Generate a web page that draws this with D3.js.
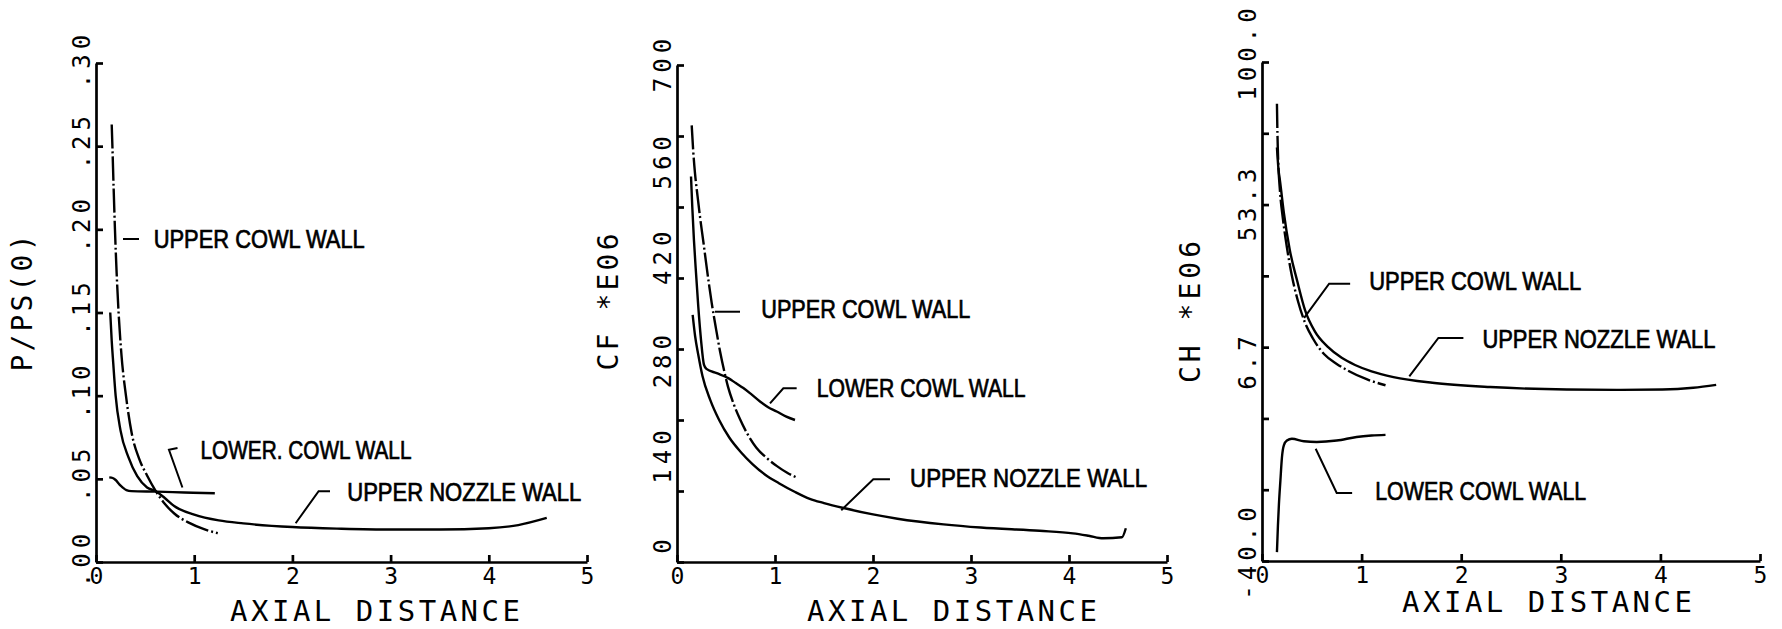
<!DOCTYPE html>
<html>
<head>
<meta charset="utf-8">
<script src="https://cdn.jsdelivr.net/npm/d3@7"></script>
<style>
  body { margin: 0; background: #fff; }
  svg { display: block; background: #fff; }
  .mono { font-family: "DejaVu Sans Mono", monospace; fill: #000; }
  .note { font-family: "Liberation Sans", Arial, sans-serif; fill: #000; }
</style>
</head>
<body>
<svg id="chart" width="1782" height="629"></svg>
<script>
const xTicks = [0, 1, 2, 3, 4, 5];

// P/PS(0)
const ppsTicks = [0, 0.05, 0.10, 0.15, 0.20, 0.25, 0.30];
const ppsLabels = [".00", ".05", ".10", ".15", ".20", ".25", ".30"];
const ppsUpperCowl = [[0.16,0.263],[0.167,0.25],[0.18,0.224],[0.193,0.20],[0.21,0.174],[0.23,0.15],[0.26,0.124],[0.305,0.10],[0.365,0.077],[0.44,0.062],[0.52,0.052],[0.61,0.0425],[0.70,0.035],[0.80,0.029],[0.95,0.0235],[1.10,0.0197],[1.24,0.0173]];
const ppsLowerCowl = [[0.135,0.0509],[0.17,0.0505],[0.2,0.0493],[0.24,0.0465],[0.27,0.0449],[0.31,0.0432],[0.36,0.0426],[0.62,0.0423],[0.9,0.0418],[1.21,0.0413]];
const ppsUpperNozzle = [[0.145,0.150],[0.16,0.133],[0.175,0.12],[0.2,0.10],[0.25,0.079],[0.33,0.063],[0.42,0.0516],[0.52,0.0448],[0.61,0.0425],[0.70,0.0385],[0.80,0.0335],[1.0,0.0285],[1.25,0.0250],[1.5,0.0232],[2.0,0.0210],[2.5,0.0200],[3.0,0.0195],[3.5,0.0195],[4.0,0.0203],[4.3,0.0222],[4.59,0.0265]];

// CF *E06
const cfTicks = [0, 100, 200, 300, 400, 500, 600, 700];
const cfLabelValues = [0, 140, 280, 420, 560, 700];
const cfLabels = ["0", "140", "280", "420", "560", "700"];
const cfUpperCowl = [[0.15,615],[0.165,580],[0.184,547],[0.21,515],[0.235,486],[0.27,450],[0.30,418],[0.354,365],[0.40,327],[0.44,296],[0.49,264],[0.52,247],[0.58,222],[0.64,202],[0.72,180],[0.81,161],[0.92,146],[1.02,135],[1.12,126],[1.22,119]];
const cfLowerCowl = [[0.143,543],[0.156,500],[0.173,453],[0.194,407],[0.217,360],[0.245,313],[0.275,278],[0.30,272],[0.405,266],[0.523,259],[0.60,252],[0.677,245],[0.76,236],[0.847,226],[0.93,218],[1.017,212],[1.11,205],[1.204,200]];
const cfUpperNozzle = [[0.16,348],[0.185,318],[0.217,292],[0.26,262],[0.34,228],[0.43,200],[0.535,175],[0.65,155],[0.77,138],[0.9,123],[1.04,111],[1.2,99],[1.355,89],[1.5,83],[1.7,76],[2.0,67],[2.25,61],[2.72,53],[3.1,48.5],[3.7,44],[4.04,40.4],[4.2,37],[4.35,33.4],[4.54,34.8],[4.58,47.5]];

// CH *E06
const chTicks = [-40, -20, 0, 20, 40, 60, 80, 100];
const chLabelValues = [-40, 6.7, 53.3, 100];
const chLabels = ["-40.0", "6.7", "53.3", "100.0"];
const chUpperCowl = [[0.15,88.3],[0.155,80],[0.163,72],[0.18,64],[0.21,56],[0.25,48],[0.30,40],[0.36,33],[0.43,27],[0.51,22.5],[0.625,18],[0.75,15.3],[0.857,13.5],[1.05,11],[1.24,9.3]];
const chLowerCowl = [[0.15,-37.5],[0.16,-30],[0.17,-24],[0.185,-17.3],[0.2,-11],[0.22,-7.5],[0.25,-6.2],[0.3,-5.7],[0.42,-6.4],[0.55,-6.6],[0.75,-6.2],[0.95,-5.2],[1.1,-4.8],[1.24,-4.6]];
const chUpperNozzle = [[0.15,76],[0.165,70],[0.181,66.6],[0.22,57.6],[0.278,47.4],[0.355,38.4],[0.432,30.4],[0.529,24.5],[0.664,20],[0.8,17],[0.934,15],[1.1,13.2],[1.32,11.6],[1.71,10],[2.29,8.8],[3.06,8.1],[3.6,8],[4.02,8.1],[4.33,8.6],[4.56,9.4]];

const panels = [
  {
    left: 96, right: 587, bottom: 562, top: 63,
    yDomain: [0, 0.30], yTicks: ppsTicks, yLabelValues: ppsTicks, yLabels: ppsLabels,
    labelNudge: [-4, -6, -6, -6, -6, -6, -4],
    title: "P/PS(0)", titleX: 22, titleY: 303, titleLen: 137,
    axialX: 375, axialY: 621,
    upperCowl: ppsUpperCowl, lowerCowl: ppsLowerCowl, upperNozzle: ppsUpperNozzle,
    notes: [
      { text: "UPPER COWL WALL", at: [0.588, 0.1885], len: 211, leader: [[0.275, 0.1942], [0.438, 0.1942]] },
      { text: "LOWER. COWL WALL", at: [1.064, 0.0619], len: 211, leader: [[0.83, 0.0685], [0.743, 0.0675], [0.88, 0.0448]] },
      { text: "UPPER NOZZLE WALL", at: [2.559, 0.0369], len: 234, leader: [[2.383, 0.0426], [2.267, 0.0426], [2.033, 0.0233]] }
    ]
  },
  {
    left: 677, right: 1167, bottom: 562, top: 65,
    yDomain: [0, 700], yTicks: cfTicks, yLabelValues: cfLabelValues, yLabels: cfLabels,
    labelNudge: [-18, -8, -4, -8, -4, -2],
    title: "CF *E06", titleX: 608, titleY: 302, titleLen: 137,
    axialX: 952, axialY: 621,
    upperCowl: cfUpperCowl, lowerCowl: cfLowerCowl, upperNozzle: cfUpperNozzle,
    notes: [
      { text: "UPPER COWL WALL", at: [0.86, 343.7], len: 209, leader: [[0.388, 352.5], [0.643, 352.5]] },
      { text: "LOWER COWL WALL", at: [1.425, 232.4], len: 209, leader: [[1.221, 244.6], [1.085, 244.6], [0.949, 223.5]] },
      { text: "UPPER NOZZLE WALL", at: [2.378, 105.6], len: 237, leader: [[2.173, 116.5], [2.003, 116.5], [1.676, 73]] }
    ]
  },
  {
    left: 1262, right: 1760, bottom: 561, top: 62,
    yDomain: [-40, 100], yTicks: chTicks, yLabelValues: chLabelValues, yLabels: chLabels,
    labelNudge: [-10, -34, -26, -10],
    title: "CH *E06", titleX: 1190, titleY: 312, titleLen: 142,
    axialX: 1547, axialY: 612,
    upperCowl: chUpperCowl, lowerCowl: chLowerCowl, upperNozzle: chUpperNozzle,
    notes: [
      { text: "UPPER COWL WALL", at: [1.076, 36.0], len: 212, leader: [[0.885, 37.8], [0.674, 37.8], [0.423, 28.2]] },
      { text: "UPPER NOZZLE WALL", at: [2.213, 19.76], len: 233, leader: [[2.022, 22.57], [1.771, 22.57], [1.479, 11.82]] },
      { text: "LOWER COWL WALL", at: [1.137, -22.9], len: 211, leader: [[0.539, -8.52], [0.75, -20.9], [0.905, -20.9]] }
    ]
  }
];

const svg = d3.select("#chart");

panels.forEach(function(p) {
  var x = d3.scaleLinear().domain([0, 5]).range([p.left, p.right]);
  var y = d3.scaleLinear().domain(p.yDomain).range([p.bottom, p.top]);
  var g = svg.append("g");

  var xAxis = g.append("g")
      .attr("transform", "translate(0," + p.bottom + ")")
      .call(d3.axisBottom(x).tickValues(xTicks).tickSize(-7).tickSizeOuter(0).tickPadding(6).tickFormat(d3.format("d")));
  xAxis.attr("font-family", "DejaVu Sans Mono, monospace").attr("font-size", 23);
  xAxis.selectAll("path, line").attr("stroke", "#000").attr("stroke-width", 2.7);
  xAxis.selectAll("text").attr("fill", "#000");

  var yAxis = g.append("g")
      .attr("transform", "translate(" + p.left + ",0)")
      .call(d3.axisLeft(y).tickValues(p.yTicks).tickSize(-7).tickSizeOuter(0).tickFormat(""));
  yAxis.selectAll("text").remove();
  yAxis.selectAll("path, line").attr("stroke", "#000").attr("stroke-width", 2.7);

  // rotated value labels, not on every tick
  g.selectAll("text.ylab")
    .data(p.yLabelValues)
    .enter().append("text")
      .attr("class", "ylab mono")
      .attr("font-size", 24)
      .attr("letter-spacing", 5)
      .attr("text-anchor", "middle")
      .attr("dy", "0.36em")
      .attr("transform", function(d, i) { return "translate(" + (p.left - 15) + "," + (y(d) + p.labelNudge[i]) + ") rotate(-90)"; })
      .text(function(d, i) { return p.yLabels[i]; });

  g.append("text")
      .attr("class", "mono")
      .attr("font-size", 28)
      .attr("text-anchor", "middle")
      .attr("dy", "0.36em")
      .attr("textLength", p.titleLen)
      .attr("lengthAdjust", "spacing")
      .attr("transform", "translate(" + p.titleX + "," + p.titleY + ") rotate(-90)")
      .text(p.title);

  g.append("text")
      .attr("class", "mono")
      .attr("font-size", 29)
      .attr("text-anchor", "middle")
      .attr("x", p.axialX)
      .attr("y", p.axialY)
      .attr("textLength", 290)
      .attr("lengthAdjust", "spacing")
      .text("AXIAL DISTANCE");

  var line = d3.line()
      .x(function(d) { return x(d[0]); })
      .y(function(d) { return y(d[1]); })
      .curve(d3.curveMonotoneX);

  var series = [
    { data: p.upperNozzle, dash: null },
    { data: p.lowerCowl, dash: null },
    { data: p.upperCowl, dash: "24,3,2,3" }
  ];

  g.selectAll("path.curve")
    .data(series)
    .enter().append("path")
      .attr("class", "curve")
      .attr("fill", "none")
      .attr("stroke", "#000")
      .attr("stroke-width", 2.4)
      .attr("stroke-dasharray", function(d) { return d.dash; })
      .attr("d", function(d) { return line(d.data); });

  var leader = d3.line()
      .x(function(d) { return x(d[0]); })
      .y(function(d) { return y(d[1]); });

  p.notes.forEach(function(n) {
    g.append("path")
        .attr("fill", "none")
        .attr("stroke", "#000")
        .attr("stroke-width", 2)
        .attr("d", leader(n.leader));
    g.append("text")
        .attr("class", "note")
        .attr("font-size", 25)
        .attr("stroke", "#000")
        .attr("stroke-width", 0.7)
        .attr("x", x(n.at[0]))
        .attr("y", y(n.at[1]))
        .attr("textLength", n.len)
        .attr("lengthAdjust", "spacingAndGlyphs")
        .text(n.text);
  });
});
</script>
</body>
</html>
